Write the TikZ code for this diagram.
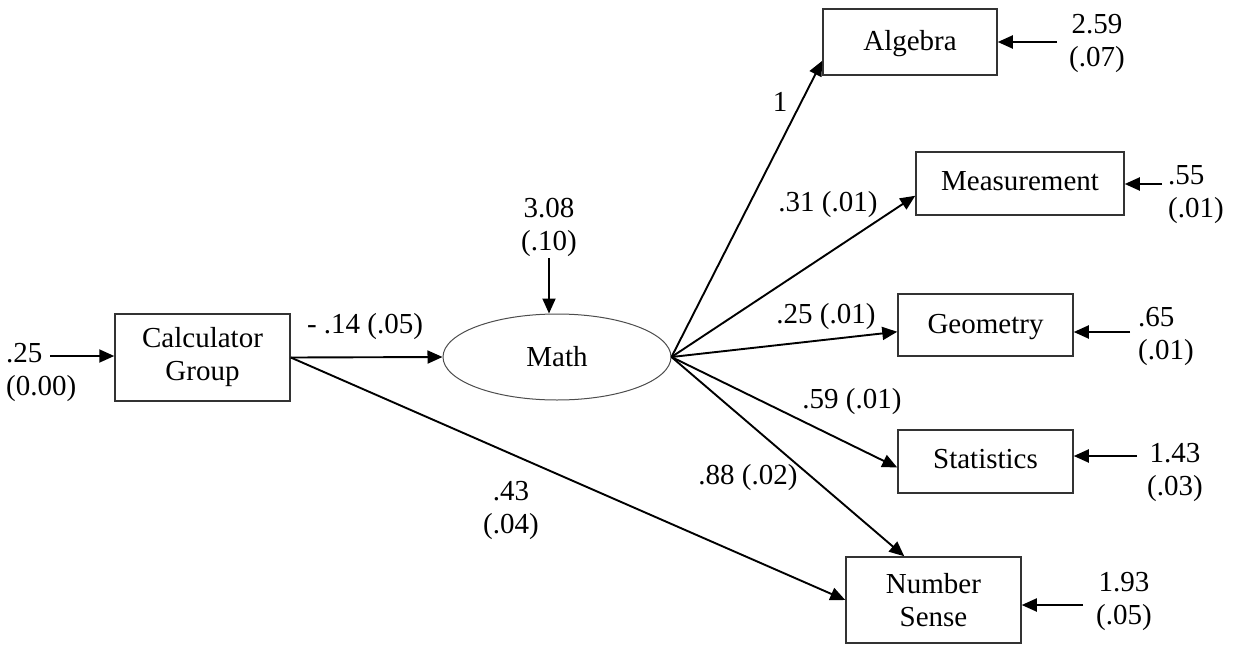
\documentclass[tikz,border=0pt]{standalone}
\usepackage{fontspec}
\setmainfont{Liberation Serif}
\usetikzlibrary{shapes.geometric,arrows.meta}
\begin{document}
\begin{tikzpicture}[x=1pt,y=-1pt,
  every node/.style={font=\fontsize{29}{33}\selectfont, inner sep=0pt},
  boxnode/.style={draw=black!80, line width=1.5pt, rectangle, align=center},
  lat/.style={draw=black!70, line width=1pt, ellipse},
  lbl/.style={align=center},
  lbll/.style={align=left},
  path/.style={line width=1.9pt, -{Triangle[length=15pt,width=13pt]}}
]
\useasboundingbox (0,0) rectangle (1236,645);
% nodes
\node[boxnode, minimum width=175pt, minimum height=87pt] (calc) at (202.5,357.5) {Calculator\\Group};
\node[lat, minimum width=228pt, minimum height=86pt] (math) at (557,357) {Math};
\node[boxnode, minimum width=174pt, minimum height=66pt, text depth=4pt] (alg) at (910,42) {Algebra};
\node[boxnode, minimum width=208pt, minimum height=63pt, text depth=4pt] (meas) at (1020,183.5) {Measurement};
\node[boxnode, minimum width=175pt, minimum height=62pt, text depth=3pt] (geo) at (985.5,325) {Geometry};
\node[boxnode, minimum width=175pt, minimum height=63pt, text depth=5pt] (stat) at (985.5,461.5) {Statistics};
\node[boxnode, minimum width=175pt, minimum height=86pt] (ns) at (933.5,600) {Number\\Sense};
% error labels
\node[lbll, anchor=west] (ecalc) at (6,372) {.25\\(0.00)};
\node[lbl] (emath) at (549,227) {3.08\\(.10)};
\node[lbl] (ealg) at (1097,43) {2.59\\(.07)};
\node[lbll, anchor=west] (emeas) at (1168,195) {.55\\(.01)};
\node[lbll, anchor=west] (egeo) at (1138,336) {.65\\(.01)};
\node[lbl] (estat) at (1175,472) {1.43\\(.03)};
\node[lbl] (ens) at (1124,601) {1.93\\(.05)};
% error arrow start points
\coordinate (scalc) at (50,356);
\coordinate (smath) at (549,258);
\coordinate (salg) at (1057,42);
\coordinate (smeas) at (1162,184);
\coordinate (sgeo) at (1130,332);
\coordinate (sstat) at (1137,456);
\coordinate (sns) at (1083,605);
\draw[path] (scalc) -- (calc.west |- scalc);
\draw[path] (smath) -- (smath |- math.north);
\draw[path] (salg) -- (alg.east |- salg);
\draw[path] (smeas) -- (meas.east |- smeas);
\draw[path] (sgeo) -- (geo.east |- sgeo);
\draw[path] (sstat) -- (stat.east |- sstat);
\draw[path] (sns) -- (ns.east |- sns);
% structural paths
\draw[path] (calc.east) -- (math.west);
\draw[path] (calc.east) -- (ns.west);
\draw[path] (math.east) -- ([yshift=15pt]alg.south west);
\draw[path] (math.east) -- ([yshift=20pt]meas.south west);
\draw[path] (math.east) -- ([yshift=25pt]geo.south west);
\draw[path] (math.east) -- ([yshift=-6pt]stat.west);
\draw[path] (math.east) -- ([xshift=59pt]ns.north west);
% path labels
\node (l1) at (365,327) {- .14 (.05)};
\node[lbl] (l2) at (511,510) {.43\\(.04)};
\node (l3) at (780,102) {1};
\node (l4) at (828,205) {.31 (.01)};
\node (l5) at (826,317) {.25 (.01)};
\node (l6) at (852,402) {.59 (.01)};
\node (l7) at (748,478) {.88 (.02)};
\end{tikzpicture}
\end{document}
